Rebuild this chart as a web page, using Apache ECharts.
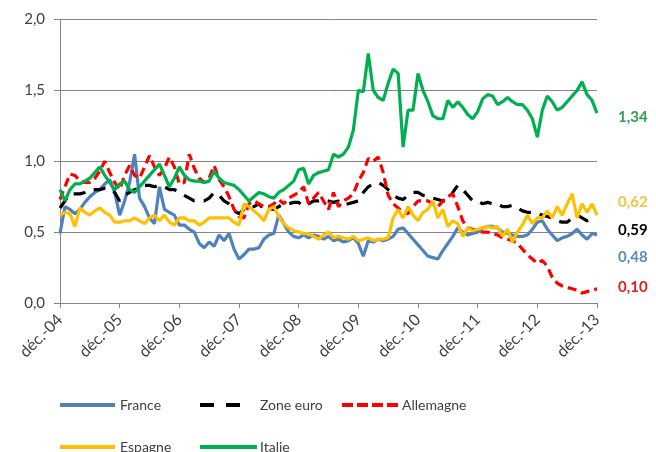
<!DOCTYPE html>
<html>
<head>
<meta charset="utf-8">
<script src="https://cdn.jsdelivr.net/npm/echarts@6/dist/echarts.min.js"></script>
<style>html,body{margin:0;padding:0;background:#fff}#c{width:656px;height:452px}</style>
</head>
<body>
<div id="c"></div>
<script>
// Tick labels (one per year, every 12 months)
const tickLabels = ['déc.-04','déc.-05','déc.-06','déc.-07','déc.-08','déc.-09','déc.-10','déc.-11','déc.-12','déc.-13'];
const monthNames = ['déc.','janv.','févr.','mars','avr.','mai','juin','juil.','août','sept.','oct.','nov.'];

const france = [0.49,0.68,0.66,0.63,0.66,0.71,0.75,0.78,0.80,0.84,0.87,0.78,0.62,0.72,0.85,1.05,0.74,0.68,0.60,0.56,
0.82,0.66,0.64,0.62,0.55,0.55,0.52,0.50,0.42,0.39,0.43,0.40,0.48,0.44,0.49,0.38,0.31,0.34,0.38,0.38,
0.39,0.45,0.48,0.49,0.62,0.56,0.50,0.47,0.46,0.48,0.46,0.48,0.47,0.45,0.47,0.44,0.45,0.43,0.44,0.46,
0.42,0.33,0.44,0.43,0.45,0.44,0.45,0.47,0.52,0.53,0.49,0.45,0.41,0.37,0.33,0.32,0.31,0.37,0.42,0.47,
0.53,0.50,0.48,0.49,0.50,0.53,0.54,0.54,0.53,0.50,0.49,0.48,0.47,0.47,0.48,0.52,0.57,0.58,0.52,0.48,
0.44,0.46,0.47,0.49,0.52,0.48,0.45,0.49,0.48];

const zoneEuro = [0.67,0.72,0.77,0.77,0.77,0.78,0.80,0.80,0.80,0.81,0.81,0.78,0.72,0.76,0.78,0.80,0.81,0.83,0.83,0.82,
0.83,0.82,0.80,0.80,0.78,0.76,0.74,0.72,0.72,0.72,0.74,0.78,0.76,0.72,0.70,0.65,0.63,0.66,0.68,0.68,
0.70,0.66,0.67,0.66,0.68,0.70,0.70,0.71,0.71,0.68,0.70,0.72,0.72,0.73,0.72,0.71,0.72,0.69,0.70,0.71,
0.72,0.78,0.82,0.84,0.85,0.83,0.80,0.76,0.74,0.73,0.76,0.78,0.78,0.76,0.75,0.74,0.73,0.72,0.72,0.78,
0.83,0.80,0.76,0.72,0.72,0.70,0.71,0.70,0.70,0.68,0.68,0.69,0.67,0.65,0.64,0.64,0.63,0.62,0.61,0.60,
0.58,0.57,0.57,0.60,0.62,0.60,0.58,0.59,0.59];

const allemagne = [0.73,0.82,0.91,0.90,0.86,0.85,0.85,0.88,0.93,1.00,0.92,0.85,0.80,0.90,0.97,0.90,0.88,0.96,1.04,0.96,
0.90,0.95,1.03,0.96,0.84,0.85,1.05,0.95,0.88,0.85,0.88,0.97,0.87,0.82,0.75,0.66,0.61,0.60,0.70,0.72,
0.70,0.68,0.68,0.70,0.73,0.70,0.74,0.76,0.78,0.82,0.70,0.74,0.78,0.72,0.66,0.78,0.68,0.72,0.74,0.77,
0.86,0.92,1.02,1.00,1.03,0.92,0.76,0.70,0.67,0.64,0.63,0.68,0.72,0.72,0.72,0.70,0.68,0.72,0.75,0.77,
0.68,0.58,0.53,0.52,0.51,0.50,0.50,0.49,0.48,0.46,0.45,0.44,0.42,0.38,0.34,0.31,0.28,0.30,0.26,0.18,
0.14,0.12,0.11,0.10,0.09,0.07,0.08,0.09,0.10];

const espagne = [0.62,0.64,0.63,0.54,0.67,0.64,0.62,0.65,0.67,0.64,0.62,0.57,0.57,0.58,0.58,0.60,0.58,0.56,0.60,0.62,
0.58,0.62,0.57,0.55,0.60,0.60,0.58,0.58,0.55,0.57,0.60,0.60,0.60,0.60,0.60,0.57,0.55,0.70,0.68,0.65,
0.62,0.58,0.66,0.68,0.61,0.56,0.53,0.51,0.50,0.49,0.49,0.47,0.45,0.48,0.50,0.46,0.47,0.46,0.45,0.47,
0.44,0.45,0.46,0.44,0.45,0.45,0.46,0.60,0.66,0.60,0.68,0.62,0.58,0.64,0.66,0.72,0.60,0.66,0.54,0.58,
0.56,0.47,0.53,0.51,0.52,0.53,0.54,0.53,0.54,0.47,0.52,0.43,0.50,0.55,0.62,0.56,0.60,0.60,0.65,0.60,
0.68,0.62,0.70,0.77,0.60,0.70,0.64,0.70,0.62];

const italie = [0.80,0.72,0.80,0.84,0.84,0.86,0.88,0.92,0.96,0.90,0.85,0.80,0.84,0.86,0.80,0.78,0.82,0.86,0.90,0.94,
0.98,0.90,0.82,0.88,0.96,0.90,0.87,0.86,0.86,0.85,0.86,0.93,0.88,0.85,0.84,0.83,0.80,0.76,0.72,0.75,
0.78,0.77,0.75,0.74,0.78,0.80,0.83,0.86,0.94,0.95,0.84,0.90,0.92,0.93,0.94,1.05,1.03,1.05,1.10,1.22,
1.50,1.49,1.76,1.50,1.45,1.43,1.55,1.65,1.62,1.10,1.36,1.36,1.62,1.50,1.42,1.32,1.30,1.30,1.43,1.38,
1.42,1.38,1.33,1.30,1.35,1.44,1.47,1.46,1.40,1.42,1.45,1.42,1.40,1.40,1.36,1.30,1.17,1.36,1.46,1.42,
1.36,1.38,1.42,1.46,1.50,1.56,1.47,1.43,1.34];

// Build category names: monthly from déc.-04 to déc.-13
const categories = [];
for (let i = 0; i < france.length; i++) {
  const yr = 4 + Math.floor((i + 11) / 12);
  categories.push(i % 12 === 0 ? tickLabels[i / 12] : monthNames[i % 12] + '-' + String(yr).padStart(2, '0'));
}

const FONT = 'Lato, "Open Sans", sans-serif';
const fmt = v => v.toFixed(2).replace('.', ',');

function mkSeries(name, data, color, labelColor, type, labelOffsetY) {
  return {
    name: name, type: 'line', data: data, symbol: 'none', smooth: false,
    lineStyle: { color: color, width: 3.2, type: type, cap: 'butt' },
    itemStyle: { color: color },
    endLabel: {
      show: true, distance: 21, offset: [0, labelOffsetY],
      formatter: p => fmt(p.value), color: labelColor,
      fontFamily: FONT, fontSize: 15, fontWeight: 'bold'
    }
  };
}

function mkLegend(name, left, top, width, lineType, padLeft) {
  return {
    data: [name], left: left, top: top, itemWidth: width, itemHeight: 14,
    padding: 0, selectedMode: false,
    itemStyle: { opacity: 0 },
    lineStyle: { width: 4, type: lineType },
    textStyle: { fontFamily: FONT, fontSize: 14, color: '#404040', padding: [0, 0, 0, padLeft] }
  };
}

const chart = echarts.init(document.getElementById('c'), null, { renderer: 'canvas' });
chart.setOption({
  animation: false,
  backgroundColor: '#ffffff',
  grid: { left: 60, right: 59, top: 19.5, bottom: 149, containLabel: false },
  legend: [
    mkLegend('France', 58, 398, 55, 'solid', 0),
    mkLegend('Zone euro', 198, 398, 42, [14, 12], 13),
    mkLegend('Allemagne', 340, 398, 57, [11, 4], -2),
    mkLegend('Espagne', 58, 440, 55, 'solid', 0),
    mkLegend('Italie', 198, 440, 57, 'solid', -2)
  ],
  xAxis: {
    type: 'category', data: categories, boundaryGap: false,
    axisLine: { lineStyle: { color: '#868686', width: 1 } },
    axisTick: { show: true, interval: (i) => i % 12 === 0, length: 5, lineStyle: { color: '#868686' } },
    axisLabel: {
      interval: (i) => i % 12 === 0, rotate: 45, margin: 14,
      fontFamily: FONT, fontSize: 16, color: '#404040'
    },
    splitLine: { show: false }
  },
  yAxis: {
    type: 'value', min: 0, max: 2, interval: 0.5,
    axisLine: { show: true, lineStyle: { color: '#868686', width: 1 } },
    axisTick: { show: true, length: 6, lineStyle: { color: '#868686' } },
    axisLabel: { formatter: v => v.toFixed(1).replace('.', ','), fontFamily: FONT, fontSize: 15, color: '#404040', margin: 15 },
    splitLine: { show: true, lineStyle: { color: '#868686', width: 1 } }
  },
  series: [
    mkSeries('France', france, '#4F81BD', '#5B8AC5', 'solid', 22),
    mkSeries('Zone euro', zoneEuro, '#000000', '#000000', [12, 9], 11),
    mkSeries('Allemagne', allemagne, '#FF0000', '#E02020', [9, 5], -2),
    mkSeries('Espagne', espagne, '#FFC000', '#F5C242', 'solid', -13),
    mkSeries('Italie', italie, '#00B050', '#2E9E5A', 'solid', 4)
  ]
});
</script>
</body>
</html>
